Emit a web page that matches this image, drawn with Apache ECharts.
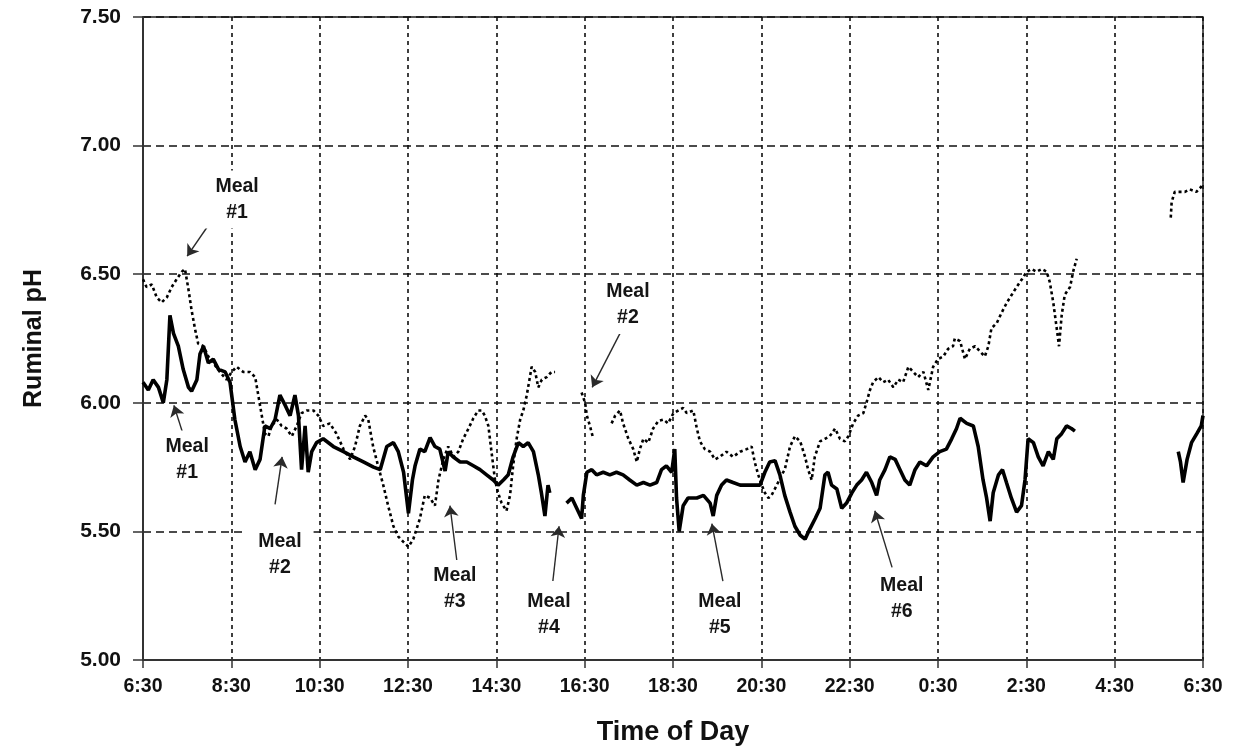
<!DOCTYPE html>
<html>
<head>
<meta charset="utf-8">
<script src="https://cdn.jsdelivr.net/npm/echarts@6/dist/echarts.min.js"></script>
<style>
html,body{margin:0;padding:0;background:#fff;}
#chart{width:1237px;height:751px;}
</style>
</head>
<body>
<div id="chart"></div>
<script>
// Hours elapsed since 6:30 (0..24) and ruminal pH, solid trace
const solidTimes = [0.00,0.12,0.23,0.35,0.46,0.54,0.61,0.69,0.80,0.91,1.03,1.10,1.22,1.29,1.37,1.48,1.59,1.71,1.86,1.97,
2.08,2.20,2.31,2.42,2.54,2.65,2.76,2.88,2.99,3.10,3.22,3.33,3.44,3.52,3.59,3.67,3.74,3.82,3.93,4.08,
4.31,4.54,4.76,4.99,5.22,5.37,5.52,5.67,5.78,5.90,6.01,6.10,6.16,6.27,6.38,6.50,6.61,6.72,6.84,6.91,
7.02,7.18,7.33,7.48,7.63,7.78,7.93,8.04,8.16,8.27,8.38,8.50,8.61,8.72,8.84,8.95,9.02,9.10,9.17,9.21,
9.40,9.59,9.71,9.82,9.93,9.97,10.05,10.16,10.27,10.42,10.57,10.72,10.87,11.02,11.18,11.33,11.48,11.63,11.74,11.85,
11.97,12.04,12.08,12.14,12.23,12.34,12.54,12.69,12.84,12.91,12.99,13.10,13.21,13.36,13.52,13.67,13.82,13.97,14.08,14.19,
14.31,14.42,14.53,14.65,14.76,14.88,14.99,15.10,15.22,15.33,15.44,15.51,15.59,15.71,15.82,15.93,16.05,16.16,16.27,16.38,
16.50,16.61,16.68,16.80,16.91,17.03,17.14,17.25,17.36,17.48,17.59,17.74,17.89,18.04,18.19,18.31,18.42,18.50,18.65,18.80,
18.91,19.02,19.10,19.18,19.25,19.37,19.46,19.55,19.66,19.78,19.89,19.97,20.04,20.16,20.27,20.38,20.50,20.61,20.69,20.80,
20.91,21.02,21.10,22.30,23.44,23.49,23.55,23.64,23.74,23.86,23.96,24.00];
const solidPH = [6.08,6.05,6.09,6.06,6.00,6.09,6.34,6.27,6.22,6.13,6.06,6.045,6.09,6.19,6.22,6.155,6.17,6.13,6.12,6.08,
5.935,5.83,5.77,5.81,5.74,5.78,5.91,5.90,5.935,6.03,5.99,5.95,6.03,5.95,5.74,5.91,5.73,5.81,5.845,5.86,
5.83,5.81,5.79,5.77,5.75,5.74,5.83,5.845,5.81,5.73,5.57,5.70,5.755,5.82,5.81,5.865,5.83,5.82,5.735,5.81,
5.79,5.77,5.77,5.755,5.74,5.72,5.70,5.68,5.70,5.72,5.79,5.845,5.83,5.845,5.81,5.72,5.65,5.56,5.68,5.65,
null,5.61,5.63,5.59,5.55,5.64,5.73,5.74,5.72,5.73,5.72,5.73,5.72,5.70,5.68,5.69,5.68,5.69,5.74,5.755,
5.73,5.82,5.63,5.50,5.60,5.63,5.63,5.64,5.61,5.56,5.64,5.68,5.70,5.69,5.68,5.68,5.68,5.68,5.73,5.77,
5.775,5.72,5.64,5.575,5.52,5.485,5.47,5.51,5.55,5.59,5.72,5.73,5.68,5.665,5.59,5.61,5.65,5.68,5.70,5.73,
5.69,5.64,5.70,5.74,5.79,5.78,5.74,5.70,5.68,5.74,5.77,5.755,5.79,5.81,5.82,5.86,5.90,5.94,5.92,5.91,
5.83,5.70,5.63,5.54,5.65,5.72,5.74,5.69,5.63,5.575,5.60,5.70,5.86,5.845,5.79,5.755,5.81,5.78,5.86,5.88,
5.91,5.90,5.89,null,5.81,5.77,5.69,5.78,5.845,5.88,5.91,5.95];

// Dotted trace
const dottedTimes = [0.00,0.08,0.20,0.31,0.42,0.54,0.65,0.76,0.88,0.95,1.03,1.10,1.18,1.25,1.37,1.48,1.59,1.74,1.89,2.01,
2.12,2.27,2.42,2.54,2.61,2.69,2.76,2.84,2.91,3.03,3.14,3.25,3.37,3.48,3.59,3.71,3.86,3.97,4.08,4.23,
4.38,4.54,4.69,4.80,4.91,5.03,5.10,5.21,5.33,5.44,5.55,5.67,5.78,5.89,6.01,6.12,6.27,6.38,6.50,6.61,
6.69,6.80,6.91,7.03,7.14,7.25,7.37,7.48,7.59,7.67,7.74,7.82,7.89,7.97,8.04,8.12,8.23,8.31,8.38,8.46,
8.54,8.61,8.69,8.75,8.80,8.88,8.95,9.03,9.14,9.25,9.33,9.60,9.93,10.01,10.05,10.12,10.18,10.40,10.61,10.69,
10.80,10.87,10.99,11.10,11.18,11.25,11.33,11.44,11.55,11.67,11.78,11.89,12.01,12.12,12.23,12.31,12.46,12.54,12.61,12.72,
12.84,12.95,13.06,13.21,13.36,13.52,13.67,13.78,13.85,13.93,14.01,14.08,14.16,14.23,14.35,14.46,14.53,14.65,14.76,14.88,
14.99,15.06,15.14,15.21,15.33,15.44,15.55,15.67,15.78,15.89,15.97,16.08,16.19,16.31,16.38,16.46,16.53,16.65,16.76,16.87,
16.99,17.10,17.21,17.33,17.44,17.55,17.67,17.78,17.89,18.00,18.12,18.23,18.34,18.38,18.50,18.61,18.72,18.84,18.95,19.06,
19.14,19.21,19.33,19.44,19.56,19.67,19.78,19.90,20.01,20.12,20.23,20.35,20.46,20.53,20.61,20.68,20.74,20.80,20.87,20.99,
21.06,21.14,22.20,23.27,23.29,23.36,23.48,23.59,23.70,23.85,23.96,24.00];
const dottedPH = [6.48,6.45,6.46,6.41,6.39,6.41,6.45,6.48,6.51,6.52,6.44,6.36,6.285,6.23,6.22,6.18,6.155,6.12,6.09,6.12,
6.14,6.12,6.12,6.10,6.03,5.95,5.88,5.87,5.91,5.935,5.91,5.90,5.87,5.91,5.96,5.97,5.97,5.95,5.91,5.92,
5.88,5.82,5.78,5.83,5.91,5.95,5.935,5.83,5.75,5.68,5.60,5.52,5.48,5.46,5.44,5.47,5.55,5.64,5.63,5.60,
5.70,5.78,5.83,5.79,5.81,5.86,5.90,5.94,5.97,5.97,5.95,5.91,5.81,5.70,5.65,5.61,5.58,5.64,5.755,5.86,
5.935,5.97,6.03,6.09,6.14,6.12,6.06,6.09,6.10,6.12,6.12,null,6.04,6.00,5.95,5.91,5.87,null,5.92,5.95,
5.97,5.92,5.86,5.82,5.77,5.82,5.86,5.845,5.90,5.93,5.935,5.92,5.96,5.97,5.98,5.96,5.97,5.90,5.85,5.82,
5.81,5.78,5.79,5.81,5.79,5.81,5.82,5.83,5.77,5.72,5.68,5.65,5.63,5.64,5.68,5.72,5.74,5.83,5.87,5.85,
5.79,5.74,5.70,5.79,5.85,5.86,5.87,5.90,5.86,5.85,5.87,5.92,5.95,5.96,6.00,6.05,6.08,6.10,6.08,6.09,
6.06,6.09,6.08,6.14,6.12,6.10,6.12,6.05,6.14,6.17,6.18,6.21,6.22,6.25,6.24,6.17,6.21,6.22,6.20,6.18,
6.22,6.29,6.31,6.35,6.39,6.42,6.45,6.48,6.51,6.52,6.51,6.52,6.51,6.47,6.39,6.30,6.22,6.34,6.42,6.45,
6.51,6.56,null,6.72,6.78,6.82,6.82,6.82,6.83,6.82,6.84,6.85];

const xTickLabels = ['6:30','8:30','10:30','12:30','14:30','16:30','18:30','20:30','22:30','0:30','2:30','4:30','6:30'];
const yTickLabels = ['5.00','5.50','6.00','6.50','7.00','7.50'];

// Annotations: text anchor and arrow (from -> to) in data units (hours since 6:30, pH)
const annotLabels = ['Meal\n#1','Meal\n#1','Meal\n#2','Meal\n#2','Meal\n#3','Meal\n#4','Meal\n#5','Meal\n#6'];
const annotText = [[2.13,6.79],[1.00,5.78],[3.10,5.41],[10.98,6.38],[7.06,5.276],[9.19,5.175],[13.06,5.175],[17.18,5.237]];
const arrowFrom = [[1.52,6.70],[0.91,5.877],[2.99,5.605],[10.80,6.27],[7.11,5.38],[9.28,5.307],[13.13,5.307],[16.96,5.36]];
const arrowTo = [[1.00,6.57],[0.70,5.99],[3.15,5.79],[10.17,6.06],[6.95,5.60],[9.42,5.52],[12.88,5.53],[16.57,5.58]];

const FONT = '"Liberation Sans", Arial, Helvetica, sans-serif';
const solidData = solidTimes.map((t,i)=>[t, solidPH[i]]);
const dottedData = dottedTimes.map((t,i)=>[t, dottedPH[i]]);

const chart = echarts.init(document.getElementById('chart'), null, {renderer:'canvas'});
chart.setOption({
  animation:false,
  backgroundColor:'#ffffff',
  grid:{left:143,right:34,top:17,bottom:90,show:true,borderColor:'#222',borderWidth:1.5,backgroundColor:'transparent'},
  xAxis:{
    type:'value',min:0,max:24,interval:2,
    name:'Time of Day',nameLocation:'middle',nameGap:59,
    nameTextStyle:{fontFamily:FONT,fontWeight:'bold',fontSize:27,color:'#111'},
    axisLine:{show:true,lineStyle:{color:'#333',width:2}},
    axisTick:{show:true,length:8,lineStyle:{color:'#333',width:1.5}},
    axisLabel:{margin:17,fontFamily:FONT,fontWeight:'bold',fontSize:19.5,color:'#111',
      formatter:v=>xTickLabels[Math.round(v/2)]},
    splitLine:{show:true,lineStyle:{color:'#111',width:1.6,type:[4,4]}}
  },
  yAxis:{
    type:'value',min:5,max:7.5,interval:0.5,
    name:'Ruminal pH',nameLocation:'middle',nameGap:96,nameRotate:90,
    nameTextStyle:{fontFamily:FONT,fontWeight:'bold',fontSize:25,color:'#111'},
    axisLine:{show:true,lineStyle:{color:'#333',width:2}},
    axisTick:{show:true,length:10,lineStyle:{color:'#333',width:1.5}},
    axisLabel:{margin:22,fontFamily:FONT,fontWeight:'bold',fontSize:21,color:'#111',
      formatter:v=>yTickLabels[Math.round((v-5)/0.5)]},
    splitLine:{show:true,lineStyle:{color:'#111',width:1.6,type:[8,5]}}
  },
  series:[
    {type:'line',name:'dotted',data:dottedData,showSymbol:false,connectNulls:false,
      lineStyle:{color:'#000',width:2.6,type:[3,3]},z:3},
    {type:'line',name:'solid',data:solidData,showSymbol:false,connectNulls:false,
      lineStyle:{color:'#000',width:3.6},z:4},
    {type:'scatter',name:'annot',symbolSize:0,z:5,silent:true,
      itemStyle:{opacity:1},
      data:annotText.map((p,i)=>({value:p,name:annotLabels[i]})),
      label:{show:true,position:'inside',formatter:'{b}',fontFamily:FONT,fontWeight:'bold',
        fontSize:19.5,lineHeight:26,color:'#151515',align:'center',verticalAlign:'middle',
        backgroundColor:'#ffffff',padding:[3,12]},
      markLine:{silent:true,symbol:['none','arrow'],symbolSize:11,
        lineStyle:{color:'#2a2a2a',width:1.4,type:'solid',opacity:1},label:{show:false},
        data:arrowFrom.map((f,i)=>[{coord:f},{coord:arrowTo[i]}])}
    }
  ]
});
</script>
</body>
</html>
